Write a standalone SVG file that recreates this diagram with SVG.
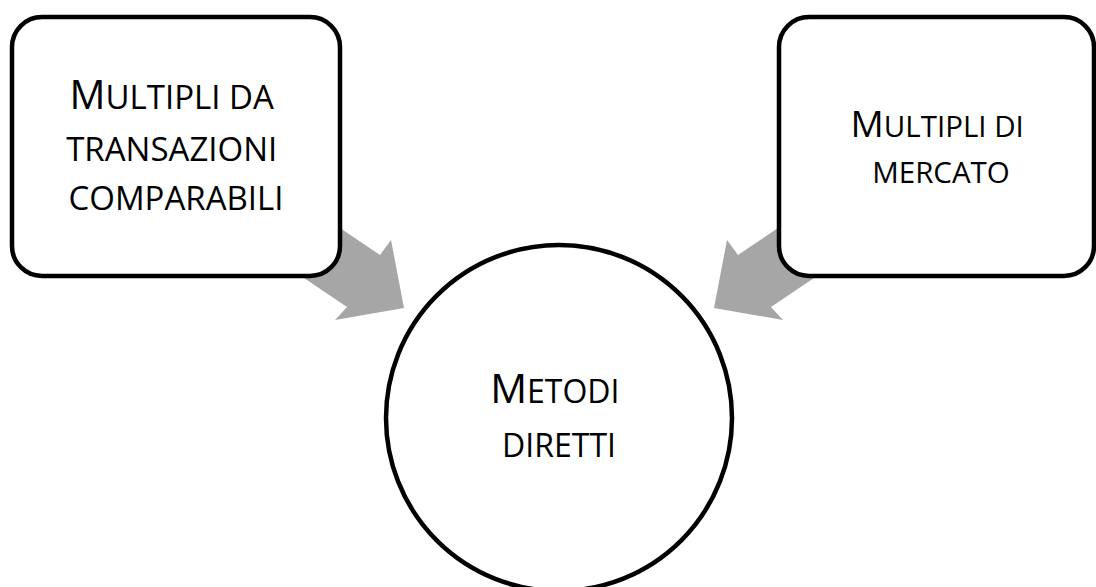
<svg xmlns="http://www.w3.org/2000/svg" width="1096" height="587" viewBox="0 0 1096 587">
  <style>
    .node { fill: #FFFFFF; stroke: #000000; stroke-width: 4.5; }
    .arrow { fill: #A6A6A6; stroke: none; }
    .label { font-family: "Open Sans", "Liberation Sans", sans-serif; fill: #000000; text-anchor: middle; }
  </style>
  <rect width="1096" height="587" fill="#FFFFFF"/>
  <g id="connectors">
    <polygon class="arrow" points="297,199 380,255 391,240 404,308 335,320 347,307 264,251"/>
    <polygon class="arrow" points="821,199 738,255 727,240 714,308 783,320 771,307 854,251"/>
  </g>
  <g id="node-transazioni">
    <rect class="node" x="12" y="17" width="328" height="259" rx="30" ry="30"/>
    <text class="label" font-size="33">
      <tspan x="176" y="109"><tspan font-size="40">M</tspan>ULTIPLI DA</tspan>
      <tspan x="176" y="161">TRANSAZIONI</tspan>
      <tspan x="176" y="210">COMPARABILI</tspan>
    </text>
  </g>
  <g id="node-mercato">
    <rect class="node" x="779" y="17" width="315" height="259" rx="30" ry="30"/>
    <text class="label" font-size="29.5">
      <tspan x="941" y="137"><tspan font-size="37">M</tspan>ULTIPLI DI</tspan>
      <tspan x="941" y="183">MERCATO</tspan>
    </text>
  </g>
  <g id="node-metodi">
    <circle class="node" cx="559" cy="418" r="173"/>
    <text class="label" font-size="32">
      <tspan x="559" y="403"><tspan font-size="41">M</tspan>ETODI</tspan>
      <tspan x="559" y="457">DIRETTI</tspan>
    </text>
  </g>
</svg>
